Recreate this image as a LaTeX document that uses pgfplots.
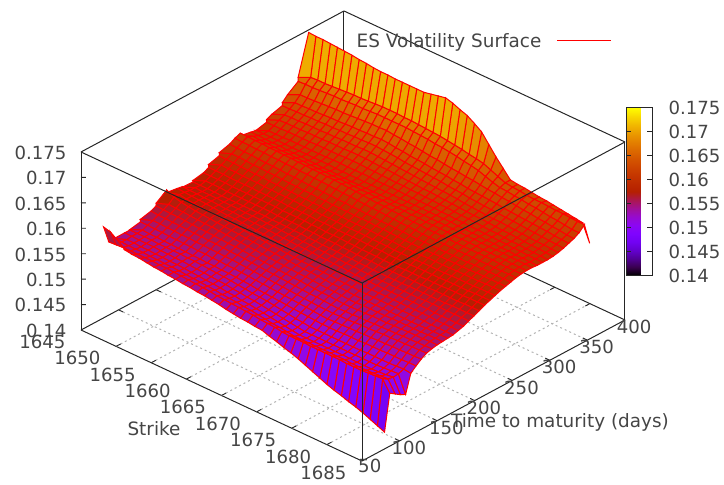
\documentclass[border=0pt]{standalone}
\usepackage{pgfplots}
\pgfplotsset{compat=1.18}
\usepackage{fontspec}
\setmainfont{DejaVu Sans}
\definecolor{txt}{gray}{0.27}
\pgfplotsset{
 colormap={gp}{rgb=(0,0,0) rgb=(.2236,.0001,.309) rgb=(.3162,.001,.5878) rgb=(.3873,.0034,.809) rgb=(.4472,.008,.9511) rgb=(.5,.0156,1) rgb=(.5477,.027,.9511) rgb=(.5916,.0429,.809) rgb=(.6325,.064,.5878) rgb=(.6708,.0911,.309) rgb=(.7071,.125,0) rgb=(.7416,.1664,0) rgb=(.7746,.216,0) rgb=(.8062,.2746,0) rgb=(.8367,.343,0) rgb=(.866,.4219,0) rgb=(.8944,.512,0) rgb=(.922,.6141,0) rgb=(.9487,.729,0) rgb=(.9747,.8574,0) rgb=(1,1,0)},
 gridl/.style={gray!60,dash pattern=on 2pt off 3pt,line width=1pt,forget plot},
 tickl/.style={black!85,line width=.9pt,forget plot},
}
\begin{document}
\begin{tikzpicture}
\path[use as bounding box] (0,0) rectangle (724pt,485pt);
\begin{axis}[
 at={(81pt,24pt)}, anchor=south west,
 x={(7.025pt,-3.275pt)}, y={(0.7514pt,0.4029pt)}, z={(0pt,5086pt)},
 xmin=1645, xmax=1685, ymin=50, ymax=400, zmin=.14, zmax=.175,
 3d box=complete, clip=false,
 xtick={1645,1650,...,1685}, ytick={50,100,...,400}, ztick={.14,.145,...,.175},
 xticklabels={1645,1650,1655,1660,1665,1670,1675,1680,1685},
 yticklabels={50,100,150,200,250,300,350,400},
 zticklabels={0.14,0.145,0.15,0.155,0.16,0.165,0.17,0.175},
 tick align=inside, major tick length=0pt,
 axis line style={black!85,line width=1pt},
 tick label style={font=\fontsize{18.1}{20}\selectfont,text=txt},
 xticklabel style={xshift=-28pt,yshift=6pt},
 yticklabel style={xshift=-1pt,yshift=9pt},
 zticklabel style={xshift=-11pt},
 label style={font=\fontsize{18.4}{20}\selectfont,text=txt},
 xlabel={Strike}, ylabel={Time to maturity (days)},
 xlabel style={at={(rel axis cs:.4906,-.2466,0)},anchor=center,rotate=0,sloped=false},
 ylabel style={at={(rel axis cs:1.2385,.498,0)},anchor=center,rotate=0,sloped=false},
 point meta min=.14, point meta max=.175,
 colorbar,
 colorbar style={at={(617.5pt,209.5pt)},anchor=south west,width=26pt,height=168pt,
  ytick={.14,.145,...,.175},yticklabels={0.14,0.145,0.15,0.155,0.16,0.165,0.17,0.175},
  ytick pos=both,yticklabel pos=right,tick align=inside,major tick length=5pt,
  axis line style={black!85,line width=1pt},
  tick style={black!85,line width=.9pt},
  yticklabel style={xshift=13pt},
  tick label style={font=\fontsize{18.1}{20}\selectfont,text=txt}},
 legend style={at={(.739,.933)},anchor=center,draw=none,fill=none,font=\fontsize{18.4}{20}\selectfont\color{txt}},
 legend plot pos=right,
 legend image code/.code={\pgfpathrectangle{\pgfpointorigin}{\pgfqpoint{68pt}{1pt}}\pgfusepath{use as bounding box}\pgfsetstrokecolor{red}\pgfsetlinewidth{1pt}\pgfpathmoveto{\pgfqpoint{14pt}{.5pt}}\pgfpathlineto{\pgfqpoint{68pt}{.5pt}}\pgfusepath{stroke}},
]
\pgfplotsinvokeforeach{1650,1655,...,1680}{
 \addplot3[gridl] coordinates {(#1,50,.14) (#1,400,.14)};
 \addplot3[tickl] coordinates {(#1,50,.14) (#1,56,.14)};
 \addplot3[tickl] coordinates {(#1,394,.14) (#1,400,.14)};
}
\pgfplotsinvokeforeach{100,150,...,350}{
 \addplot3[gridl] coordinates {(1645,#1,.14) (1685,#1,.14)};
 \addplot3[tickl] coordinates {(1645,#1,.14) (1645.65,#1,.14)};
 \addplot3[tickl] coordinates {(1684.35,#1,.14) (1685,#1,.14)};
}
\pgfplotsinvokeforeach{.145,.15,.155,.16,.165,.17}{
 \addplot3[tickl] coordinates {(1645,50,#1) (1645.38,53.1,#1)};
}
\addlegendimage{red}
\addlegendentry{ES Volatility Surface}
\addplot3[surf,shader=faceted,faceted color=red,line width=1pt,z buffer=sort,mesh/rows=40,mesh/cols=40,forget plot] table[header=false,row sep=\\,x expr={1645+mod(\coordindex,40)*40/39},y expr={80+7*floor(\coordindex/40)},z expr={\thisrowno{0}/10000}] {
1579\\1575\\1565\\1553\\1551\\1550\\1548\\1546\\1545\\1543\\1542\\1540\\1539\\1537\\1536\\1534\\1532\\1529\\1527\\1525\\1524\\1522\\1521\\1516\\1512\\1507\\1503\\1498\\1492\\1486\\1480\\1474\\1469\\1465\\1460\\1456\\1451\\1445\\1439\\1433\\
1544\\1545\\1546\\1546\\1546\\1546\\1546\\1545\\1545\\1544\\1543\\1542\\1541\\1540\\1539\\1537\\1536\\1535\\1534\\1533\\1532\\1530\\1529\\1528\\1526\\1525\\1525\\1525\\1524\\1524\\1524\\1524\\1524\\1523\\1523\\1523\\1524\\1525\\1526\\1504\\
1545\\1545\\1544\\1544\\1544\\1543\\1543\\1542\\1542\\1541\\1540\\1539\\1538\\1537\\1536\\1534\\1533\\1532\\1530\\1529\\1527\\1525\\1523\\1522\\1520\\1518\\1518\\1518\\1518\\1518\\1518\\1518\\1518\\1517\\1517\\1517\\1518\\1519\\1520\\1497\\
1545\\1544\\1544\\1543\\1543\\1542\\1542\\1541\\1541\\1540\\1539\\1538\\1537\\1536\\1535\\1533\\1532\\1530\\1529\\1527\\1525\\1523\\1521\\1519\\1517\\1515\\1515\\1515\\1515\\1515\\1515\\1515\\1515\\1514\\1514\\1514\\1515\\1516\\1518\\1490\\
1545\\1545\\1544\\1544\\1544\\1543\\1543\\1542\\1542\\1541\\1540\\1539\\1538\\1537\\1536\\1534\\1533\\1531\\1530\\1528\\1526\\1524\\1522\\1520\\1518\\1516\\1516\\1516\\1516\\1516\\1516\\1516\\1516\\1516\\1516\\1516\\1517\\1518\\1519\\1485\\
1545\\1545\\1545\\1545\\1544\\1544\\1544\\1544\\1543\\1543\\1542\\1541\\1540\\1539\\1538\\1536\\1535\\1533\\1532\\1531\\1529\\1527\\1525\\1523\\1522\\1520\\1520\\1520\\1520\\1520\\1520\\1520\\1520\\1521\\1521\\1521\\1521\\1522\\1523\\1521\\
1546\\1546\\1545\\1545\\1544\\1544\\1543\\1543\\1542\\1542\\1541\\1541\\1540\\1540\\1539\\1538\\1537\\1535\\1534\\1533\\1532\\1531\\1530\\1529\\1528\\1527\\1526\\1526\\1526\\1527\\1527\\1527\\1528\\1528\\1528\\1529\\1529\\1529\\1530\\1530\\
1550\\1550\\1549\\1549\\1548\\1548\\1547\\1547\\1546\\1546\\1545\\1545\\1544\\1544\\1543\\1542\\1541\\1540\\1539\\1538\\1537\\1536\\1535\\1534\\1533\\1532\\1531\\1532\\1532\\1533\\1533\\1534\\1534\\1535\\1535\\1536\\1536\\1537\\1537\\1538\\
1555\\1554\\1554\\1553\\1553\\1552\\1552\\1551\\1551\\1550\\1550\\1549\\1549\\1548\\1547\\1546\\1545\\1544\\1543\\1542\\1541\\1540\\1539\\1538\\1537\\1537\\1536\\1537\\1537\\1538\\1539\\1539\\1540\\1541\\1541\\1542\\1542\\1543\\1543\\1544\\
1560\\1559\\1559\\1558\\1558\\1557\\1556\\1556\\1555\\1555\\1554\\1553\\1553\\1552\\1551\\1550\\1549\\1548\\1547\\1546\\1545\\1544\\1543\\1543\\1542\\1541\\1540\\1541\\1541\\1542\\1542\\1543\\1543\\1544\\1544\\1545\\1545\\1546\\1546\\1547\\
1565\\1564\\1563\\1563\\1562\\1561\\1560\\1560\\1559\\1558\\1557\\1557\\1556\\1555\\1554\\1553\\1552\\1551\\1550\\1549\\1549\\1548\\1547\\1546\\1546\\1545\\1544\\1544\\1545\\1545\\1546\\1546\\1546\\1547\\1547\\1548\\1548\\1548\\1549\\1549\\
1570\\1569\\1568\\1567\\1566\\1565\\1564\\1564\\1563\\1562\\1561\\1560\\1559\\1558\\1557\\1556\\1555\\1554\\1553\\1552\\1552\\1551\\1550\\1549\\1549\\1548\\1547\\1547\\1548\\1548\\1548\\1548\\1549\\1549\\1549\\1549\\1549\\1550\\1550\\1550\\
1585\\1578\\1574\\1572\\1570\\1569\\1568\\1567\\1566\\1565\\1564\\1563\\1562\\1561\\1560\\1559\\1558\\1557\\1556\\1555\\1555\\1554\\1553\\1552\\1552\\1551\\1550\\1550\\1550\\1550\\1550\\1550\\1550\\1550\\1550\\1550\\1551\\1551\\1551\\1551\\
1580\\1577\\1575\\1573\\1572\\1571\\1570\\1569\\1568\\1567\\1566\\1565\\1564\\1563\\1562\\1561\\1560\\1559\\1558\\1558\\1557\\1556\\1556\\1555\\1554\\1554\\1553\\1553\\1553\\1553\\1553\\1553\\1553\\1553\\1553\\1553\\1552\\1552\\1552\\1552\\
1577\\1576\\1575\\1574\\1573\\1572\\1571\\1570\\1570\\1569\\1568\\1567\\1566\\1565\\1564\\1563\\1563\\1562\\1561\\1561\\1560\\1559\\1559\\1558\\1557\\1557\\1556\\1556\\1556\\1556\\1556\\1556\\1556\\1556\\1556\\1556\\1555\\1555\\1555\\1555\\
1575\\1574\\1574\\1573\\1573\\1572\\1571\\1571\\1570\\1570\\1569\\1569\\1568\\1567\\1566\\1566\\1565\\1565\\1564\\1563\\1563\\1562\\1562\\1561\\1560\\1560\\1559\\1559\\1559\\1559\\1559\\1559\\1559\\1559\\1559\\1558\\1558\\1558\\1558\\1558\\
1574\\1574\\1573\\1573\\1573\\1572\\1572\\1572\\1571\\1571\\1571\\1570\\1570\\1569\\1568\\1568\\1567\\1567\\1566\\1566\\1565\\1565\\1564\\1564\\1563\\1563\\1562\\1562\\1562\\1562\\1562\\1562\\1562\\1563\\1563\\1563\\1563\\1563\\1563\\1563\\
1573\\1573\\1573\\1573\\1572\\1572\\1572\\1572\\1572\\1572\\1572\\1571\\1571\\1571\\1570\\1570\\1569\\1569\\1568\\1568\\1568\\1567\\1567\\1566\\1566\\1565\\1565\\1565\\1565\\1565\\1566\\1566\\1566\\1566\\1566\\1566\\1567\\1567\\1567\\1567\\
1576\\1576\\1576\\1576\\1575\\1575\\1575\\1575\\1575\\1575\\1575\\1574\\1574\\1574\\1574\\1573\\1573\\1572\\1572\\1572\\1571\\1571\\1570\\1570\\1570\\1569\\1569\\1569\\1569\\1570\\1570\\1570\\1570\\1571\\1571\\1571\\1571\\1572\\1572\\1572\\
1580\\1580\\1580\\1580\\1579\\1579\\1579\\1579\\1579\\1579\\1579\\1578\\1578\\1578\\1578\\1577\\1577\\1576\\1576\\1576\\1575\\1575\\1574\\1574\\1574\\1573\\1573\\1573\\1574\\1574\\1574\\1575\\1575\\1575\\1576\\1576\\1576\\1577\\1577\\1577\\
1585\\1585\\1585\\1584\\1584\\1584\\1584\\1583\\1583\\1583\\1583\\1582\\1582\\1582\\1582\\1581\\1581\\1581\\1580\\1580\\1580\\1580\\1579\\1579\\1579\\1578\\1578\\1578\\1578\\1579\\1579\\1579\\1579\\1580\\1580\\1580\\1580\\1581\\1581\\1581\\
1591\\1591\\1590\\1590\\1589\\1589\\1589\\1588\\1588\\1587\\1587\\1587\\1586\\1586\\1586\\1585\\1585\\1585\\1584\\1584\\1584\\1584\\1583\\1583\\1583\\1582\\1582\\1582\\1582\\1583\\1583\\1583\\1583\\1584\\1584\\1584\\1584\\1585\\1585\\1585\\
1597\\1596\\1596\\1595\\1595\\1594\\1594\\1593\\1593\\1592\\1592\\1591\\1591\\1590\\1590\\1589\\1589\\1589\\1588\\1588\\1588\\1588\\1587\\1587\\1587\\1586\\1586\\1586\\1586\\1587\\1587\\1587\\1587\\1588\\1588\\1588\\1588\\1589\\1589\\1589\\
1603\\1602\\1602\\1601\\1600\\1600\\1599\\1599\\1598\\1597\\1597\\1596\\1596\\1595\\1595\\1594\\1594\\1594\\1593\\1593\\1593\\1592\\1592\\1591\\1591\\1590\\1590\\1590\\1590\\1590\\1591\\1591\\1591\\1591\\1591\\1592\\1592\\1592\\1592\\1592\\
1609\\1608\\1607\\1607\\1606\\1605\\1605\\1604\\1603\\1603\\1602\\1601\\1601\\1600\\1600\\1599\\1599\\1598\\1598\\1597\\1597\\1596\\1596\\1595\\1595\\1594\\1594\\1594\\1594\\1594\\1594\\1594\\1594\\1594\\1595\\1595\\1595\\1595\\1595\\1595\\
1615\\1614\\1614\\1613\\1613\\1612\\1612\\1611\\1611\\1610\\1610\\1609\\1609\\1608\\1607\\1606\\1606\\1605\\1604\\1603\\1603\\1602\\1601\\1600\\1600\\1599\\1598\\1598\\1598\\1598\\1598\\1598\\1598\\1598\\1598\\1598\\1598\\1598\\1598\\1598\\
1619\\1619\\1618\\1618\\1617\\1617\\1616\\1616\\1615\\1615\\1614\\1614\\1613\\1613\\1612\\1611\\1610\\1609\\1608\\1607\\1607\\1606\\1605\\1604\\1603\\1603\\1602\\1602\\1602\\1602\\1601\\1601\\1601\\1601\\1601\\1601\\1600\\1600\\1600\\1600\\
1614\\1614\\1613\\1613\\1612\\1612\\1612\\1611\\1611\\1610\\1610\\1610\\1609\\1609\\1609\\1608\\1608\\1608\\1607\\1607\\1606\\1606\\1606\\1605\\1605\\1604\\1604\\1604\\1604\\1603\\1603\\1603\\1603\\1602\\1602\\1602\\1602\\1601\\1601\\1601\\
1610\\1610\\1609\\1609\\1609\\1608\\1608\\1608\\1607\\1607\\1606\\1606\\1606\\1605\\1605\\1605\\1605\\1605\\1605\\1605\\1605\\1605\\1605\\1605\\1605\\1605\\1605\\1605\\1605\\1604\\1604\\1604\\1603\\1603\\1603\\1603\\1602\\1602\\1602\\1601\\
1608\\1608\\1608\\1608\\1607\\1607\\1607\\1607\\1607\\1607\\1607\\1606\\1606\\1606\\1606\\1606\\1606\\1606\\1606\\1606\\1606\\1606\\1606\\1606\\1606\\1606\\1606\\1606\\1605\\1605\\1604\\1604\\1603\\1603\\1602\\1602\\1601\\1601\\1600\\1600\\
1608\\1608\\1608\\1608\\1609\\1609\\1609\\1609\\1609\\1609\\1610\\1610\\1610\\1610\\1610\\1610\\1609\\1609\\1609\\1609\\1608\\1608\\1608\\1608\\1608\\1607\\1607\\1606\\1606\\1605\\1605\\1604\\1604\\1603\\1603\\1602\\1602\\1601\\1601\\1600\\
1613\\1613\\1613\\1614\\1614\\1614\\1614\\1615\\1615\\1615\\1615\\1616\\1616\\1616\\1615\\1615\\1614\\1614\\1613\\1613\\1612\\1612\\1611\\1611\\1610\\1610\\1609\\1608\\1608\\1607\\1606\\1605\\1605\\1604\\1603\\1603\\1602\\1601\\1601\\1600\\
1618\\1618\\1619\\1619\\1619\\1620\\1620\\1620\\1621\\1621\\1621\\1622\\1622\\1622\\1621\\1620\\1620\\1619\\1618\\1617\\1616\\1615\\1615\\1614\\1613\\1612\\1611\\1610\\1609\\1609\\1608\\1607\\1606\\1606\\1605\\1604\\1603\\1603\\1602\\1601\\
1623\\1623\\1624\\1624\\1625\\1625\\1625\\1626\\1626\\1627\\1627\\1627\\1628\\1628\\1627\\1626\\1625\\1624\\1623\\1622\\1621\\1620\\1619\\1618\\1617\\1616\\1614\\1613\\1612\\1611\\1610\\1610\\1609\\1608\\1607\\1606\\1605\\1605\\1604\\1603\\
1629\\1629\\1630\\1630\\1631\\1631\\1632\\1632\\1633\\1633\\1634\\1634\\1635\\1635\\1634\\1633\\1632\\1630\\1629\\1628\\1627\\1626\\1625\\1623\\1622\\1621\\1619\\1618\\1617\\1616\\1615\\1614\\1613\\1612\\1611\\1610\\1609\\1608\\1607\\1606\\
1635\\1636\\1636\\1637\\1637\\1638\\1639\\1639\\1640\\1641\\1641\\1642\\1642\\1643\\1642\\1640\\1639\\1637\\1636\\1635\\1633\\1632\\1631\\1629\\1628\\1626\\1625\\1624\\1623\\1622\\1620\\1619\\1618\\1617\\1616\\1615\\1614\\1612\\1611\\1610\\
1645\\1646\\1646\\1647\\1648\\1649\\1650\\1650\\1651\\1652\\1653\\1654\\1654\\1655\\1653\\1652\\1650\\1649\\1647\\1645\\1644\\1642\\1640\\1639\\1637\\1636\\1634\\1632\\1631\\1629\\1628\\1626\\1624\\1623\\1621\\1620\\1618\\1617\\1615\\1614\\
1660\\1661\\1661\\1662\\1663\\1664\\1664\\1665\\1666\\1666\\1667\\1668\\1668\\1668\\1668\\1668\\1667\\1666\\1665\\1663\\1662\\1660\\1658\\1655\\1653\\1650\\1645\\1640\\1636\\1635\\1633\\1632\\1630\\1629\\1627\\1625\\1624\\1622\\1620\\1620\\
1668\\1669\\1670\\1670\\1671\\1672\\1673\\1674\\1674\\1675\\1676\\1677\\1677\\1677\\1676\\1676\\1675\\1674\\1673\\1672\\1670\\1668\\1666\\1663\\1661\\1658\\1652\\1646\\1640\\1638\\1637\\1635\\1634\\1634\\1633\\1632\\1632\\1631\\1630\\1630\\
1745\\1744\\1744\\1743\\1742\\1741\\1740\\1738\\1737\\1735\\1734\\1734\\1733\\1733\\1733\\1733\\1733\\1736\\1739\\1742\\1738\\1732\\1727\\1718\\1708\\1690\\1672\\1656\\1640\\1638\\1637\\1635\\1633\\1632\\1630\\1628\\1626\\1624\\1622\\1588\\
};
\end{axis}
\end{tikzpicture}
\end{document}
